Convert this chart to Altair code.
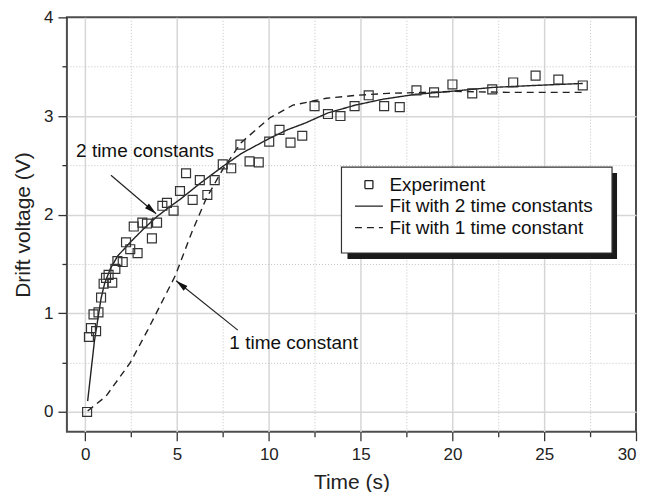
import math
import altair as alt
import pandas as pd

FONT = "Liberation Sans, Arial, sans-serif"

names = ["Experiment", "Fit with 2 time constants", "Fit with 1 time constant"]

exp_t = [0.1, 0.2, 0.31, 0.59, 0.45, 0.72, 0.86, 1.0, 1.13, 1.27, 1.47, 1.64, 1.75,
         2.04, 2.22, 2.45, 2.85, 2.64, 3.11, 3.36, 3.91, 3.63, 4.2, 4.45, 4.81, 5.16,
         5.49, 5.85, 6.24, 6.65, 7.05, 7.49, 7.95, 8.45, 8.95, 9.45, 10.02, 10.58,
         11.18, 11.82, 12.49, 13.22, 13.9, 14.67, 15.44, 16.28, 17.13, 18.04, 19.0,
         20.0, 21.08, 22.17, 23.31, 24.53, 25.77, 27.1]
exp_v = [0.0, 0.76, 0.85, 0.82, 0.99, 1.01, 1.16, 1.30, 1.36, 1.39, 1.31, 1.45, 1.53,
         1.52, 1.72, 1.65, 1.61, 1.88, 1.92, 1.91, 1.92, 1.76, 2.09, 2.12, 2.04, 2.24,
         2.42, 2.15, 2.35, 2.20, 2.35, 2.51, 2.47, 2.71, 2.54, 2.53, 2.74, 2.86,
         2.73, 2.80, 3.10, 3.02, 3.00, 3.10, 3.21, 3.10, 3.09, 3.26, 3.24,
         3.32, 3.23, 3.27, 3.34, 3.41, 3.37, 3.31]

fit2_t = [0.13, 0.5, 0.86, 1.05, 1.36, 1.76, 2.5, 3.2, 3.9, 4.6, 5.2, 6.2, 7.5, 8.5,
          10.0, 11.0, 12.0, 13.2, 14.7, 16.2, 18.0, 19.9, 22.2, 24.5, 27.1]
fit2_v = [0.11, 0.72, 1.15, 1.30, 1.45, 1.58, 1.73, 1.86, 1.98, 2.08, 2.16, 2.31, 2.49,
          2.62, 2.77, 2.86, 2.93, 3.03, 3.11, 3.17, 3.22, 3.25, 3.29, 3.31, 3.33]

fit1_t = [0.13, 1.13, 2.45, 3.4, 4.9, 5.8, 6.58, 7.49, 8.49, 10.04, 11.31, 13.13,
          14.77, 16.5, 18.5, 20.0, 23.0, 27.04]
fit1_v = [0.01, 0.16, 0.50, 0.83, 1.38, 1.82, 2.16, 2.46, 2.73, 2.98, 3.11, 3.18,
          3.21, 3.23, 3.24, 3.25, 3.24, 3.24]

ann_text = ["2 time constants", "1 time constant"]
ann_t = [-0.5, 7.85]
ann_v = [2.65, 0.70]

arrow_start_t = [1.40, 8.31]
arrow_start_v = [2.40, 0.83]
arrow_tip_t = [3.86, 4.95]
arrow_tip_v = [2.01, 1.33]

x_ticks = [0, 2.5, 5, 7.5, 10, 12.5, 15, 17.5, 20, 22.5, 25, 27.5, 30]
y_ticks = [0, 0.5, 1, 1.5, 2, 2.5, 3, 3.5, 4]

X_DOMAIN = [-1, 30]
Y_DOMAIN = [-0.2, 4]
W, H = 570, 415
TOP = 9  # top padding, plot area top edge at 8 + TOP

# ---- tables ----
exp_df = pd.DataFrame({"t": exp_t, "v": exp_v, "series": names[0]})
fit_df = pd.concat([
    pd.DataFrame({"t": fit2_t, "v": fit2_v, "series": names[1]}),
    pd.DataFrame({"t": fit1_t, "v": fit1_v, "series": names[2]}),
])
ann_df = pd.DataFrame({"t": ann_t, "v": ann_v, "label": ann_text})

arrow_rows = []
head_rows = []
sx = W / (X_DOMAIN[1] - X_DOMAIN[0])
sy = H / (Y_DOMAIN[1] - Y_DOMAIN[0])
for i in range(len(arrow_tip_t)):
    arrow_rows.append({"id": i, "t": arrow_start_t[i], "v": arrow_start_v[i]})
    arrow_rows.append({"id": i, "t": arrow_tip_t[i], "v": arrow_tip_v[i]})
    dx = (arrow_tip_t[i] - arrow_start_t[i]) * sx
    dy = -(arrow_tip_v[i] - arrow_start_v[i]) * sy
    ang = math.degrees(math.atan2(dx, -dy)) % 360
    head_rows.append({"t": arrow_tip_t[i], "v": arrow_tip_v[i], "angle": ang})
arrow_df = pd.DataFrame(arrow_rows)
head_df = pd.DataFrame(head_rows)

# ---- axes ----
def make_axis(title, values, major_test, edge_test, label_pad, title_pad):
    return alt.Axis(
        title=title, values=values,
        labelExpr=f"{major_test} ? '' + datum.value : ''",
        tickSize={"condition": {"test": major_test, "value": 9}, "value": 5},
        gridDash={"condition": {"test": major_test, "value": []}, "value": [1, 2]},
        gridColor={"condition": {"test": major_test, "value": "#d6d6d6"}, "value": "#c4c4c4"},
        gridWidth={"condition": {"test": major_test, "value": 1.5}, "value": 1},
        gridOpacity={"condition": {"test": edge_test, "value": 0}, "value": 1},
        domain=False, tickColor="#333", tickWidth=1.3,
        labelFont=FONT, labelFontSize=17, labelColor="#222", labelPadding=label_pad,
        titleFont=FONT, titleFontSize=21, titleFontWeight="normal", titleColor="#222",
        titlePadding=title_pad,
    )

xaxis = make_axis("Time (s)", x_ticks, "datum.value % 5 === 0", "datum.value === 30", 6, 9)
yaxis = make_axis("Drift voltage (V)", y_ticks, "datum.value % 1 === 0", "datum.value === 4", 5, 10)

X = alt.X("t:Q", scale=alt.Scale(domain=X_DOMAIN, nice=False, zero=False), axis=xaxis)
Y = alt.Y("v:Q", scale=alt.Scale(domain=Y_DOMAIN, nice=False, zero=False), axis=yaxis)

leg = alt.Legend(
    title=None, orient="none", legendX=283, legendY=162 - (TOP - 5),
    symbolSize=64, symbolOffset=10, labelOffset=11,
    labelFont=FONT, labelFontSize=19, labelColor="#111", labelLimit=400,
    symbolStrokeColor="#222", symbolStrokeWidth=1.3, symbolFillColor="white",
    rowPadding=1.5, padding=0,
)

LINE_SYM = "M-3.5,0L3.5,0"

one = pd.DataFrame({"k": [0]})
oy = TOP - 5
shadow = alt.Chart(one).mark_rect(color="#1a1a1a").encode(
    x=alt.value(281), x2=alt.value(551), y=alt.value(160 - oy), y2=alt.value(246 - oy))
box = alt.Chart(one).mark_rect(fill="white", stroke="#333", strokeWidth=1.2).encode(
    x=alt.value(275), x2=alt.value(546), y=alt.value(154 - oy), y2=alt.value(240 - oy))

fits = alt.Chart(fit_df).mark_line(color="#222", strokeWidth=1.4).encode(
    x=X, y=Y,
    strokeDash=alt.StrokeDash("series:N", scale=alt.Scale(domain=names, range=[[1, 0], [1, 0], [7, 5]]), legend=leg),
)

points = alt.Chart(exp_df).mark_point(filled=False, color="#333", strokeWidth=1.2, size=80, opacity=1).encode(
    x=X, y=Y,
    shape=alt.Shape("series:N", scale=alt.Scale(domain=names, range=["square", LINE_SYM, LINE_SYM]), legend=leg),
)

arrows = alt.Chart(arrow_df).mark_line(color="#222", strokeWidth=1.2).encode(
    x=X, y=Y, detail="id:N")

heads = alt.Chart(head_df).mark_point(
    shape="M0,0L-0.55,2.2L0.55,2.2Z", filled=True, color="#111", size=120, opacity=1
).encode(x=X, y=Y, angle=alt.Angle("angle:Q", scale=None))

labels = alt.Chart(ann_df).mark_text(
    align="left", baseline="middle", fontSize=19, font=FONT, color="#111"
).encode(x=X, y=Y, text="label:N")

chart = alt.layer(shadow, box, fits, points, arrows, heads, labels).properties(
    width=W, height=H,
    autosize=alt.AutoSizeParams(type="none"),
    padding={"left": 59, "top": TOP, "right": 2, "bottom": 60},
).configure_view(stroke="#4d4d4d", strokeWidth=2)

chart.save("out.html", embed_options={"renderer": "svg", "actions": False})
